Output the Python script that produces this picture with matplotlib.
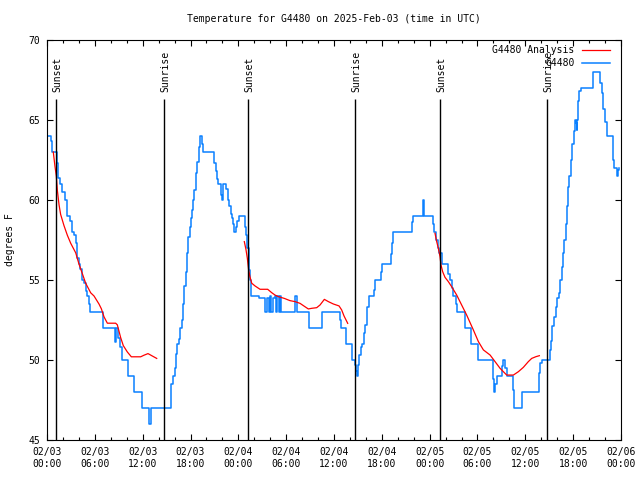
import matplotlib
matplotlib.use('Agg')
import matplotlib.pyplot as plt
from matplotlib.ticker import MultipleLocator

# hours since 2025-02-03 00:00 UTC, observed temps (deg F), step changes
obs_hours = [0.0, 0.46, 0.67, 1.21, 1.42, 1.63, 1.92, 2.22, 2.47, 2.55,
             2.89, 3.10, 3.39, 3.60, 3.72, 3.97, 4.20, 4.43, 4.70, 4.89,
             5.06, 5.25, 5.44, 7.07, 8.49, 8.60, 8.90, 9.16, 9.41, 10.12,
             10.91, 11.95, 12.83, 13.05, 15.60, 15.76, 16.01, 16.14, 16.27, 16.52,
             16.68, 16.93, 17.10, 17.23, 17.39, 17.52, 17.73, 17.94, 18.06, 18.20,
             18.36, 18.48, 18.65, 18.78, 19.03, 19.19, 19.49, 19.60, 20.99, 21.16,
             21.29, 21.49, 21.87, 21.99, 22.12, 22.49, 22.66, 22.83, 23.08, 23.21,
             23.35, 23.50, 23.66, 23.83, 24.08, 24.80, 24.95, 25.12, 25.28, 25.45,
             25.62, 26.59, 27.30, 27.60, 27.90, 28.00, 28.15, 28.30, 28.55, 28.75,
             28.85, 29.05, 29.20, 29.40, 31.05, 31.30, 32.90, 34.45, 36.75, 36.90,
             37.45, 38.30, 38.65, 38.80, 38.93, 39.05, 39.18, 39.39, 39.55, 39.76,
             39.89, 40.10, 40.18, 40.39, 41.06, 41.19, 41.90, 41.98, 43.11, 43.28,
             43.44, 45.83, 45.95, 47.16, 47.20, 47.30, 48.38, 48.50, 48.80, 49.00,
             49.21, 49.51, 50.34, 50.55, 50.75, 50.97, 51.30, 51.47, 52.40, 53.15,
             54.11, 55.91, 56.10, 56.22, 56.41, 57.10, 57.24, 57.50, 57.74, 58.41,
             58.62, 59.60, 61.76, 61.88, 62.05, 63.05, 63.20, 63.39, 63.60, 63.81,
             63.93, 64.20, 64.35, 64.56, 64.77, 64.89, 65.10, 65.27, 65.39, 65.52,
             65.69, 65.90, 66.07, 66.23, 66.36, 66.44, 66.52, 66.65, 66.77, 66.95,
             68.45, 68.53, 69.37, 69.58, 69.78, 69.99, 70.21, 70.96, 71.04, 71.16,
             71.46, 71.59, 71.80]
obs_temps = [64.0, 63.7, 63.0, 62.3, 61.4, 61.0, 60.5, 60.0, 59.8, 59.0,
             58.7, 58.0, 57.8, 57.3, 56.4, 56.0, 55.7, 55.0, 54.8, 54.3,
             54.0, 53.5, 53.0, 52.0, 51.1, 52.0, 51.4, 50.8, 50.0, 49.0,
             48.0, 47.0, 46.0, 47.0, 48.5, 49.0, 49.5, 50.4, 51.0, 51.3,
             52.0, 52.5, 53.5, 54.6, 55.5, 56.7, 57.7, 58.3, 58.9, 59.4,
             60.0, 60.6, 61.7, 62.4, 63.3, 64.0, 63.5, 63.0, 62.3, 61.8,
             61.3, 61.0, 60.3, 60.0, 61.0, 60.7, 60.0, 59.6, 59.1, 58.9,
             58.5, 58.0, 58.3, 58.7, 59.0, 58.3, 57.8, 57.0, 55.6, 55.0,
             54.0, 53.9, 53.0, 53.9, 53.0, 54.0, 53.0, 53.9, 54.0, 53.0,
             54.0, 53.0, 54.0, 53.0, 54.0, 53.0, 52.0, 53.0, 52.5, 52.0,
             51.0, 50.0, 49.7, 49.3, 49.0, 49.7, 50.3, 50.8, 51.0, 51.7,
             52.2, 52.7, 53.3, 54.0, 54.4, 55.0, 55.5, 56.0, 56.6, 57.3,
             58.0, 58.6, 59.0, 59.8, 60.0, 59.0, 58.5, 58.0, 57.5, 57.0,
             56.7, 56.0, 55.4, 55.0, 54.5, 54.0, 53.5, 53.0, 52.0, 51.0,
             50.0, 48.8, 48.0, 48.5, 49.0, 49.6, 50.0, 49.5, 49.0, 48.1,
             47.0, 48.0, 49.2, 49.8, 50.0, 50.6, 51.2, 52.1, 52.7, 53.3,
             53.9, 54.2, 55.0, 55.8, 56.7, 57.5, 58.5, 59.6, 60.8, 61.5,
             62.5, 63.5, 64.3, 65.0, 64.8, 64.4, 65.0, 66.2, 66.8, 67.0,
             67.5, 68.0, 67.3, 66.7, 65.7, 64.9, 64.0, 63.3, 62.5, 62.0,
             61.5, 61.9, 62.0]

# analysis curve, one piece per night
ana_hours_1 = [0.79, 1.00, 1.17, 1.30, 1.51, 1.71, 2.13, 2.55, 2.97, 3.60,
               4.01, 4.43, 4.85, 5.48, 5.90, 6.52, 6.82, 7.15, 7.57, 8.19,
               8.61, 8.82, 9.03, 9.24, 9.57, 10.08, 10.58, 11.75, 12.17, 12.67,
               13.21, 13.76]
ana_temps_1 = [63.0, 62.1, 61.5, 60.6, 59.7, 59.1, 58.4, 57.8, 57.3, 56.7,
               56.0, 55.4, 54.8, 54.2, 54.0, 53.5, 53.2, 52.7, 52.3, 52.3,
               52.3, 52.2, 51.8, 51.4, 50.9, 50.5, 50.2, 50.2, 50.3, 50.4,
               50.25, 50.1]
ana_hours_2 = [24.75, 24.96, 25.13, 25.30, 25.46, 25.68, 26.09, 26.72, 27.68, 28.18,
               28.60, 29.02, 29.77, 30.48, 31.11, 31.74, 32.36, 32.78, 33.20, 33.83,
               34.25, 34.79, 35.29, 35.92, 36.63, 36.96, 37.26, 37.72]
ana_temps_2 = [57.4, 56.9, 56.35, 55.6, 55.2, 54.8, 54.63, 54.42, 54.42, 54.21,
               54.06, 53.96, 53.85, 53.71, 53.65, 53.54, 53.33, 53.19, 53.23, 53.27,
               53.44, 53.79, 53.65, 53.5, 53.38, 53.13, 52.75, 52.29]
ana_hours_3 = [48.67, 48.88, 49.09, 49.30, 49.42, 49.63, 49.92, 50.34, 50.76, 51.39,
               52.01, 52.64, 53.48, 54.11, 54.74, 55.58, 56.20, 56.83, 57.66, 58.50,
               59.13, 59.75, 60.38, 60.80, 61.34, 61.76]
ana_temps_3 = [57.92, 57.4, 56.98, 56.46, 55.94, 55.52, 55.17, 54.9, 54.58, 54.06,
               53.44, 52.81, 51.88, 51.15, 50.63, 50.31, 49.9, 49.48, 49.06, 49.06,
               49.27, 49.54, 49.9, 50.1, 50.21, 50.27]

sun_hours = [1.17, 14.72, 25.26, 38.68, 49.34, 62.76]
sun_labels = ['Sunset', 'Sunrise', 'Sunset', 'Sunrise', 'Sunset', 'Sunrise']

tick_hours = list(range(0, 73, 6))
tick_labels = ['02/03\n00:00', '02/03\n06:00', '02/03\n12:00', '02/03\n18:00',
               '02/04\n00:00', '02/04\n06:00', '02/04\n12:00', '02/04\n18:00',
               '02/05\n00:00', '02/05\n06:00', '02/05\n12:00', '02/05\n18:00',
               '02/06\n00:00']

plt.rcParams['font.family'] = 'DejaVu Sans Mono'
plt.rcParams['font.size'] = 7

fig = plt.figure(figsize=(6.4, 4.8), dpi=100)
ax = fig.add_axes([47/640, 40/480, 574/640, 400/480])

red = '#ff0000'
blue = '#0a80ff'
l_ana, = ax.plot(ana_hours_1, ana_temps_1, c=red, lw=0.9, zorder=3, label='G4480 Analysis')
ax.plot(ana_hours_2, ana_temps_2, c=red, lw=0.9, zorder=3)
ax.plot(ana_hours_3, ana_temps_3, c=red, lw=0.9, zorder=3)
l_obs, = ax.plot(obs_hours, obs_temps, c=blue, lw=1.1, drawstyle='steps-post', zorder=2, label='G4480')

for h, lab in zip(sun_hours, sun_labels):
    ax.vlines(h, 45, 66.3, colors='black', lw=1.0, zorder=4)
    ax.text(h + 0.1, 66.75, lab, rotation=90, ha='center', va='bottom')

ax.set_xlim(0, 72)
ax.set_ylim(45, 70)
ax.set_xticks(tick_hours)
ax.set_xticklabels(tick_labels)
ax.xaxis.set_minor_locator(MultipleLocator(2))
ax.yaxis.set_major_locator(MultipleLocator(5))
ax.tick_params(which='both', direction='in', top=True, right=True, width=0.8)
ax.tick_params(which='major', length=4, pad=5)
ax.tick_params(which='minor', length=2.2)
for s in ax.spines.values():
    s.set_linewidth(0.8)

ax.legend(handles=[l_ana, l_obs], loc='upper right', frameon=False, markerfirst=False,
          bbox_to_anchor=((610 - 47) / 574, (440 - 45) / 400), borderpad=0, borderaxespad=0,
          handlelength=2.9, handletextpad=0.75, labelspacing=0.35)

fig.text(334/640, 1 - 19/480, 'Temperature for G4480 on 2025-Feb-03 (time in UTC)',
         ha='center', va='center')
fig.text(10/640, 0.5, 'degrees F', rotation=90, ha='center', va='center')

plt.savefig('out.png', dpi=100)
